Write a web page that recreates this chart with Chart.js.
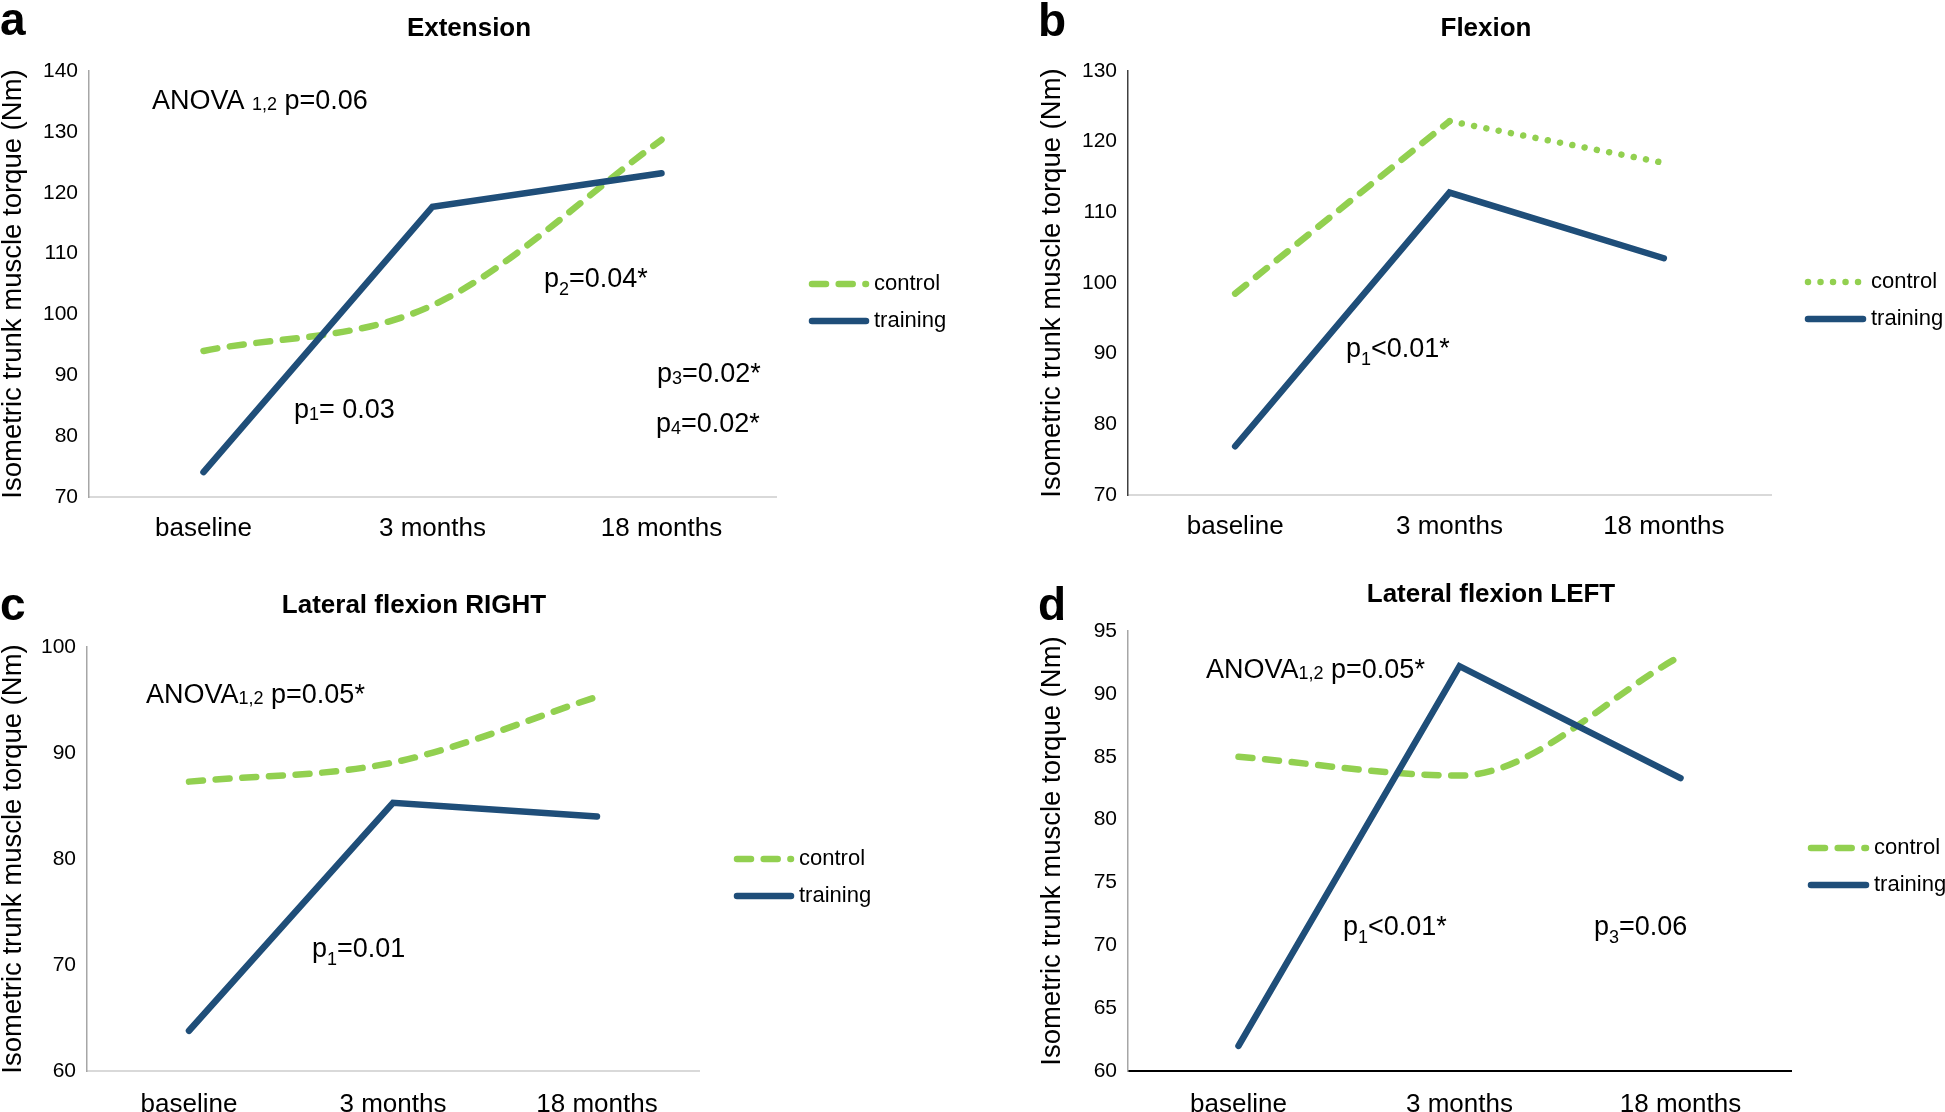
<!DOCTYPE html>
<html>
<head>
  <meta charset="utf-8">
  <title>Isometric trunk muscle torque</title>
  <script src="https://cdn.jsdelivr.net/npm/chart.js@4.4.1/dist/chart.umd.min.js"></script>
  <style>
    html, body { margin: 0; padding: 0; background: #fff; }
    #wrap { position: relative; width: 1945px; height: 1112px; overflow: hidden; background: #fff; }
    canvas { position: absolute; }
  </style>
</head>
<body>
<div id="wrap">
  <canvas id="chart-a" width="972" height="560" style="left:0px;top:0px"></canvas>
  <canvas id="chart-b" width="965" height="560" style="left:980px;top:0px"></canvas>
  <canvas id="chart-c" width="972" height="552" style="left:0px;top:560px"></canvas>
  <canvas id="chart-d" width="965" height="552" style="left:980px;top:560px"></canvas>
</div>

<script>
  // time points (x axis)
  const categories = ['baseline', '3 months', '18 months'];

  // a - Extension
  const extControl = [94.0, 101.5, 128.7];
  const extTraining = [74.1, 117.7, 123.2];
  const extRange = [70, 140, 10];

  // b - Flexion
  const flexControl = [98.5, 122.9, 117.0];
  const flexTraining = [76.9, 112.8, 103.5];
  const flexRange = [70, 130, 10];

  // c - Lateral flexion RIGHT
  const rightControl = [87.3, 89.1, 95.3];
  const rightTraining = [63.8, 85.3, 84.0];
  const rightRange = [60, 100, 10];

  // d - Lateral flexion LEFT
  const leftControl = [85.0, 83.5, 93.0];
  const leftTraining = [62.0, 92.2, 83.3];
  const leftRange = [60, 95, 5];

  const FONT = '"Liberation Sans", Arial, sans-serif';
  const GREEN = '#92D050';
  const NAVY = '#1F4E79';
  const DASH = [14, 12.7];
  const DOT = [0.01, 12.5];
  const Y_TITLE = 'Isometric trunk muscle torque (Nm)';

  Chart.defaults.font.family = FONT;
  Chart.defaults.color = '#000';

  // panel letter, title, legend and the p-value notes
  const overlay = {
    id: 'overlay',
    afterDraw(chart, args, o) {
      const ctx = chart.ctx;
      ctx.save();
      ctx.fillStyle = '#000';

      ctx.font = 'bold 46px ' + FONT;
      ctx.textAlign = 'left';
      ctx.textBaseline = 'alphabetic';
      ctx.fillText(o.letter[0], o.letter[1], o.letter[2]);

      ctx.font = 'bold 26px ' + FONT;
      ctx.textAlign = 'center';
      ctx.textBaseline = 'middle';
      ctx.fillText(o.title[0], o.title[1], o.title[2]);

      const lg = o.legend;
      chart.data.datasets.forEach((ds, i) => {
        const y = lg.y + i * lg.dy;
        ctx.beginPath();
        ctx.setLineDash(ds.borderDash || []);
        ctx.lineCap = 'round';
        ctx.lineWidth = ds.borderWidth;
        ctx.strokeStyle = ds.borderColor;
        ctx.moveTo(lg.x + 3, y);
        ctx.lineTo(lg.x + lg.len - 3, y);
        ctx.stroke();
        ctx.setLineDash([]);
        ctx.font = '22px ' + FONT;
        ctx.textAlign = 'left';
        ctx.fillText(ds.label, lg.x + lg.len + 5, y);
      });

      ctx.textAlign = 'left';
      o.notes.forEach(n => {
        let x = n.x;
        n.parts.forEach(p => {
          const small = typeof p !== 'string';
          const txt = small ? p.s : p;
          ctx.font = (small ? '18px ' : '27px ') + FONT;
          ctx.fillText(txt, x, n.y + (small ? p.dy : 0));
          x += ctx.measureText(txt).width;
        });
      });
      ctx.restore();
    }
  };

  function makeChart(id, cfg) {
    const [yMin, yMax, yStep] = cfg.range;
    return new Chart(document.getElementById(id), {
      type: 'line',
      data: {
        labels: categories,
        datasets: [
          {
            label: 'control',
            data: cfg.control,
            borderColor: GREEN,
            borderWidth: 6.5,
            borderDash: cfg.controlDash,
            borderCapStyle: 'round',
            cubicInterpolationMode: cfg.smooth ? 'monotone' : 'default',
            tension: 0,
            pointRadius: 0,
            order: 1,
            segment: cfg.segment
          },
          {
            label: 'training',
            data: cfg.training,
            borderColor: NAVY,
            borderWidth: 6.5,
            borderCapStyle: 'round',
            borderJoinStyle: 'miter',
            tension: 0,
            pointRadius: 0,
            order: 0
          }
        ]
      },
      options: {
        responsive: false,
        animation: false,
        devicePixelRatio: 1,
        layout: { padding: { left: 0, top: cfg.area.top, right: cfg.area.right, bottom: 0 } },
        plugins: {
          legend: { display: false },
          title: { display: false },
          tooltip: { enabled: false },
          overlay: cfg.overlay
        },
        scales: {
          x: {
            offset: true,
            grid: { display: false, drawTicks: false },
            border: { color: cfg.xLine, width: 2 },
            ticks: { color: '#000', font: { size: 26 }, padding: cfg.area.xpad, maxRotation: 0 },
            afterFit: s => { s.height = cfg.area.xh; }
          },
          y: {
            min: yMin,
            max: yMax,
            ticks: { stepSize: yStep, color: '#000', font: { size: 21 }, padding: 11 },
            grid: { display: false, drawTicks: false },
            border: { color: cfg.yLine, width: 1.5 },
            title: {
              display: true,
              text: Y_TITLE,
              color: '#000',
              font: { size: 27.5, lineHeight: 1 },
              padding: { top: cfg.titlePad, bottom: 0 }
            },
            afterFit: s => { s.width = cfg.area.left; }
          }
        }
      },
      plugins: [overlay]
    });
  }

  makeChart('chart-a', {
    control: extControl, training: extTraining, range: extRange,
    controlDash: DASH, smooth: true,
    area: { left: 89, top: 71, right: 196, xh: 63, xpad: 16 },
    xLine: '#d9d9d9', yLine: '#a6a6a6', titlePad: 0,
    overlay: {
      letter: ['a', 0, 35],
      title: ['Extension', 469, 29],
      legend: { x: 809, y: 284, dy: 37, len: 60 },
      notes: [
        { x: 152, y: 102, parts: ['ANOVA ', { s: '1,2', dy: 3 }, ' p=0.06'] },
        { x: 544, y: 280, parts: ['p', { s: '2', dy: 10 }, '=0.04*'] },
        { x: 657, y: 375, parts: ['p', { s: '3', dy: 4 }, '=0.02*'] },
        { x: 656, y: 425, parts: ['p', { s: '4', dy: 4 }, '=0.02*'] },
        { x: 294, y: 411, parts: ['p', { s: '1', dy: 4 }, '= 0.03'] }
      ]
    }
  });

  makeChart('chart-b', {
    control: flexControl, training: flexTraining, range: flexRange,
    controlDash: DOT, smooth: false,
    // first part of the control line is dashed, the rest dotted
    segment: { borderDash: ctx => ctx.p0DataIndex === 0 ? DASH : undefined },
    area: { left: 148, top: 71, right: 174, xh: 65, xpad: 16 },
    xLine: '#d9d9d9', yLine: '#404040', titlePad: 59,
    overlay: {
      letter: ['b', 58, 36],
      title: ['Flexion', 506, 29],
      legend: { x: 825, y: 282, dy: 37, len: 61 },
      notes: [
        { x: 366, y: 350, parts: ['p', { s: '1', dy: 10 }, '<0.01*'] }
      ]
    }
  });

  makeChart('chart-c', {
    control: rightControl, training: rightTraining, range: rightRange,
    controlDash: DASH, smooth: true,
    area: { left: 87, top: 87, right: 273, xh: 41, xpad: 18 },
    xLine: '#d9d9d9', yLine: '#a6a6a6', titlePad: 0,
    overlay: {
      letter: ['c', 0, 60],
      title: ['Lateral flexion RIGHT', 414, 46],
      legend: { x: 734, y: 299, dy: 37, len: 60 },
      notes: [
        { x: 146, y: 136, parts: ['ANOVA', { s: '1,2', dy: 3 }, ' p=0.05*'] },
        { x: 312, y: 390, parts: ['p', { s: '1', dy: 10 }, '=0.01'] }
      ]
    }
  });

  makeChart('chart-d', {
    control: leftControl, training: leftTraining, range: leftRange,
    controlDash: DASH, smooth: true,
    area: { left: 148, top: 71, right: 154, xh: 41, xpad: 18 },
    xLine: '#000000', yLine: '#a6a6a6', titlePad: 59,
    overlay: {
      letter: ['d', 58, 60],
      title: ['Lateral flexion LEFT', 511, 35],
      legend: { x: 828, y: 288, dy: 37, len: 61 },
      notes: [
        { x: 226, y: 111, parts: ['ANOVA', { s: '1,2', dy: 3 }, ' p=0.05*'] },
        { x: 363, y: 368, parts: ['p', { s: '1', dy: 10 }, '<0.01*'] },
        { x: 614, y: 368, parts: ['p', { s: '3', dy: 10 }, '=0.06'] }
      ]
    }
  });
</script>
</body>
</html>
